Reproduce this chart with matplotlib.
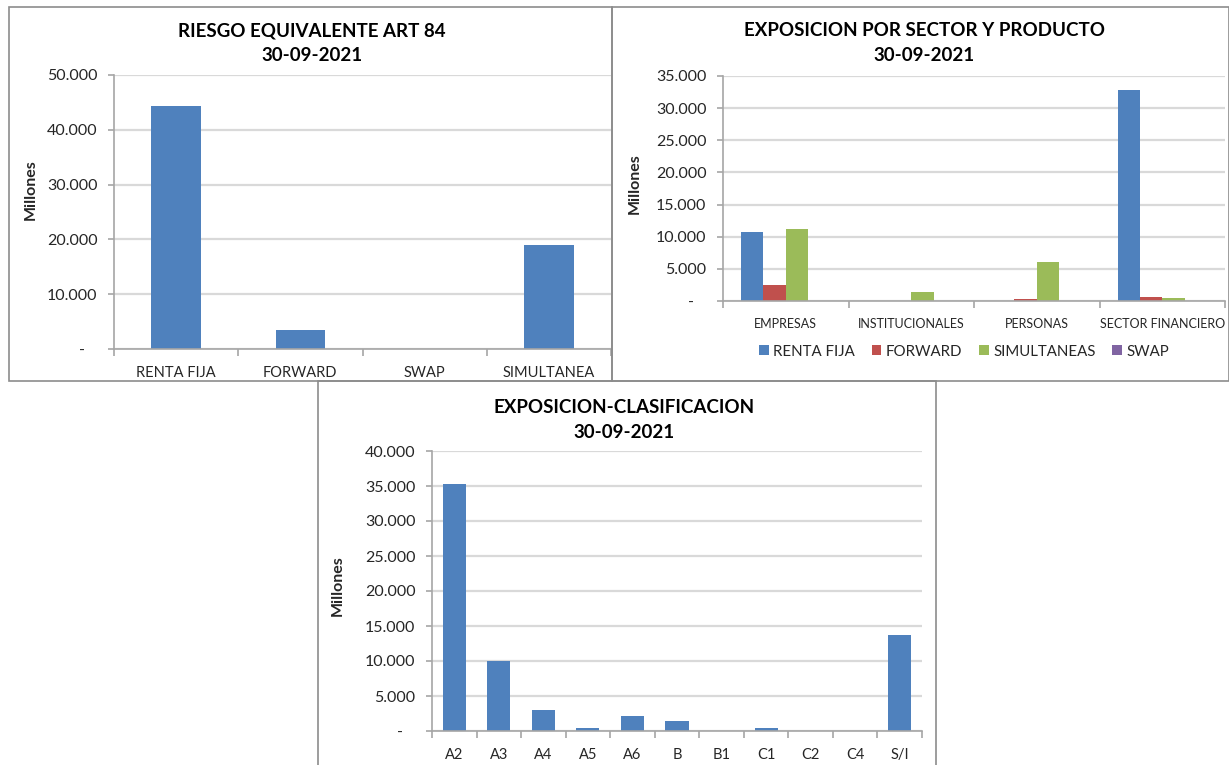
import numpy as np
import matplotlib
matplotlib.use('Agg')
import matplotlib.pyplot as plt
from matplotlib.patches import Rectangle
from matplotlib.ticker import FuncFormatter, FixedLocator

plt.rcParams['font.family'] = ['Lato', 'DejaVu Sans']

# panel 1: riesgo equivalente art 84
ART84_CATS = ['RENTA FIJA', 'FORWARD', 'SWAP', 'SIMULTANEA']
ART84_VALUES = [44300, 3530, 0, 18980]

# panel 2: exposicion por sector y producto
SECTOR_CATS = ['EMPRESAS', 'INSTITUCIONALES', 'PERSONAS', 'SECTOR FINANCIERO']
SECTOR_SERIES = ['RENTA FIJA', 'FORWARD', 'SIMULTANEAS', 'SWAP']
SECTOR_RENTA_FIJA = [10780, 0, 0, 32800]
SECTOR_FORWARD = [2450, 0, 350, 570]
SECTOR_SIMULTANEAS = [11200, 1400, 6000, 420]
SECTOR_SWAP = [0, 0, 0, 0]

# panel 3: exposicion-clasificacion
CLASIF_CATS = ['A2', 'A3', 'A4', 'A5', 'A6', 'B', 'B1', 'C1', 'C2', 'C4', 'S/I']
CLASIF_VALUES = [35300, 9980, 2950, 400, 2180, 1460, 0, 400, 0, 0, 13780]

BLUE = '#4F81BD'
RED = '#C0504D'
GREEN = '#9BBB59'
PURPLE = '#8064A2'
GRID = '#D9D9D9'
AXIS = '#A6A6A6'
TEXT = '#262626'

W, H = 1229, 765
fig = plt.figure(figsize=(W / 100, H / 100), dpi=100)


def px_axes(l, t, r, b):
    return fig.add_axes([l / W, 1 - b / H, (r - l) / W, (b - t) / H])


def frame(l, t, r, b):
    fig.patches.append(Rectangle((l / W, 1 - b / H), (r - l) / W, (b - t) / H,
                                 transform=fig.transFigure, fill=False,
                                 edgecolor='#8C8C8C', linewidth=1.2))


def thousands(v, pos):
    if abs(v) < 1e-9:
        return '-   '
    return f'{int(round(v)):,}'.replace(',', '.')


def style(ax, ncat, ymax, step, xfs):
    ax.set_xlim(-0.5, ncat - 0.5)
    ax.set_ylim(0, ymax)
    ax.set_yticks(np.arange(0, ymax + 1, step))
    ax.yaxis.set_major_formatter(FuncFormatter(thousands))
    ax.grid(axis='y', color=GRID, linewidth=1.6)
    ax.set_axisbelow(True)
    for s in ['top', 'right']:
        ax.spines[s].set_visible(False)
    ax.spines['left'].set_color(AXIS)
    ax.spines['bottom'].set_color(AXIS)
    ax.spines['left'].set_linewidth(1.2)
    ax.spines['bottom'].set_linewidth(1.2)
    ax.tick_params(axis='y', colors=AXIS, length=4, width=1.2, pad=8,
                   labelcolor=TEXT, labelsize=11.5)
    ax.xaxis.set_minor_locator(FixedLocator(np.arange(-0.5, ncat, 1.0)))
    ax.tick_params(axis='x', which='major', length=0, pad=12,
                   labelcolor=TEXT, labelsize=xfs)
    ax.tick_params(axis='x', which='minor', length=5, width=1.2, colors=AXIS)
    ax.set_ylabel('Millones', fontsize=11.5, fontweight='bold', color=TEXT)


def title(x, y, lines, size=13.5):
    fig.text(x / W, 1 - y / H, lines, ha='center', va='center',
             fontsize=size, fontweight='bold', color='#000000',
             linespacing=1.55)


frame(9, 7, 612, 381)
frame(612, 7, 1229, 381)
frame(318, 381, 936, 766)

# panel 1
ax1 = px_axes(114, 75, 611, 349)
x1 = np.arange(len(ART84_CATS))
ax1.bar(x1, ART84_VALUES, width=0.4, color=BLUE)
ax1.set_xticks(x1)
ax1.set_xticklabels(ART84_CATS)
style(ax1, len(ART84_CATS), 50000, 10000, 10.5)
ax1.yaxis.set_label_coords(-0.153, 0.58)
title(312, 43, 'RIESGO EQUIVALENTE ART 84\n30-09-2021')

# panel 2
ax2 = px_axes(723, 76, 1225, 301)
x2 = np.arange(len(SECTOR_CATS))
bw = 0.178
series = [SECTOR_RENTA_FIJA, SECTOR_FORWARD, SECTOR_SIMULTANEAS, SECTOR_SWAP]
colors = [BLUE, RED, GREEN, PURPLE]
for i, (vals, c, name) in enumerate(zip(series, colors, SECTOR_SERIES)):
    ax2.bar(x2 + (i - 1.5) * bw, vals, width=bw, color=c, label=name)
ax2.set_xticks(x2)
ax2.set_xticklabels(SECTOR_CATS)
style(ax2, len(SECTOR_CATS), 35000, 5000, 9)
ax2.yaxis.set_label_coords(-0.161, 0.52)
ax2.legend(loc='center', bbox_to_anchor=(0.48, -0.225), ncol=4, frameon=False,
           fontsize=10.8, handlelength=0.65, handleheight=0.65, handletextpad=0.3,
           columnspacing=1.1, labelcolor=TEXT)
title(924, 43, 'EXPOSICION POR SECTOR Y PRODUCTO\n30-09-2021')

# panel 3
ax3 = px_axes(432, 451, 922, 731)
x3 = np.arange(len(CLASIF_CATS))
ax3.bar(x3, CLASIF_VALUES, width=0.52, color=BLUE)
ax3.set_xticks(x3)
ax3.set_xticklabels(CLASIF_CATS)
style(ax3, len(CLASIF_CATS), 40000, 5000, 10.5)
ax3.yaxis.set_label_coords(-0.178, 0.52)
title(624, 420, 'EXPOSICION-CLASIFICACION\n30-09-2021')

fig.savefig('out.png', dpi=100)
